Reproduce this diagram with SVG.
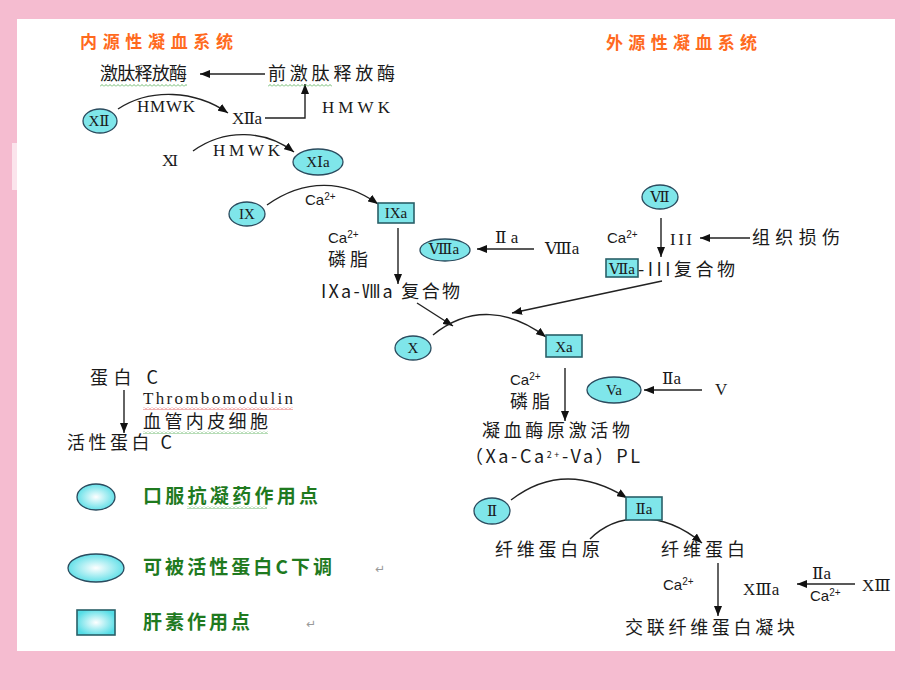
<svg xmlns="http://www.w3.org/2000/svg" width="920" height="690" viewBox="0 0 920 690">
<defs>
<style>
.cn{font-family:"Noto Sans CJK SC","Noto Sans",sans-serif;font-size:18px;fill:#1a1a1a}
.rm{font-family:"Liberation Serif","DejaVu Serif","Noto Sans CJK SC",serif;font-size:17px;fill:#1a1a1a}
.ca{font-family:"Liberation Sans","Noto Sans",sans-serif;font-size:15px;fill:#1a1a1a}
.title{font-family:"Noto Sans CJK SC",sans-serif;font-size:17px;font-weight:bold;fill:#ff6a1e}
.leg{font-family:"Noto Sans CJK SC",sans-serif;font-size:19px;font-weight:bold;fill:#1f7a1f}
.ell{fill:#7fe6ea;stroke:#2b4b5e;stroke-width:1.3}
.box{fill:#7fe6ea;stroke:#2a6068;stroke-width:1.6}
.lnk{fill:none;stroke:#222;stroke-width:1.4}
.nt{font-family:"Liberation Serif","DejaVu Serif","Noto Sans CJK SC",serif;font-size:15px;fill:#1a1a1a;text-anchor:middle}
.pm{font-family:"DejaVu Sans",sans-serif;font-size:12px;fill:#999}
</style>
<marker id="ah" viewBox="0 0 10 8" refX="10" refY="4" markerWidth="10" markerHeight="8" markerUnits="userSpaceOnUse" orient="auto">
<path d="M0,0 L10,4 L0,8 Z" fill="#111"/>
</marker>
<radialGradient id="lg" cx="50%" cy="50%" r="55%">
<stop offset="0" stop-color="#ffffff"/>
<stop offset="1" stop-color="#55dde6"/>
</radialGradient>
<pattern id="wg" width="4" height="3" patternUnits="userSpaceOnUse">
<path d="M0,2.5 L2,0.5 L4,2.5" fill="none" stroke="#4aa84a" stroke-width="0.8"/>
</pattern>
<pattern id="wr" width="4" height="3" patternUnits="userSpaceOnUse">
<path d="M0,2.5 L2,0.5 L4,2.5" fill="none" stroke="#e04040" stroke-width="0.8"/>
</pattern>
</defs>

<rect x="0" y="0" width="920" height="690" fill="#f5bcd0"/>
<rect x="12" y="143" width="6" height="47" fill="#fbe4ec"/>
<rect x="17" y="19" width="878" height="632" fill="#ffffff"/>

<!-- titles -->
<text class="title" x="80" y="48" textLength="153">内源性凝血系统</text>
<text class="title" x="606" y="49" textLength="151">外源性凝血系统</text>

<!-- connectors -->
<g id="connectors">
<line class="lnk" x1="265" y1="74" x2="200" y2="74" marker-end="url(#ah)"/>
<path class="lnk" d="M118,109 C150,88 195,90 228,113" marker-end="url(#ah)"/>
<polyline class="lnk" points="265,118 305,118 305,84" marker-end="url(#ah)"/>
<path class="lnk" d="M193,151 C225,128 265,130 294,152" marker-end="url(#ah)"/>
<path class="lnk" d="M267,205 C305,178 345,180 378,204" marker-end="url(#ah)"/>
<line class="lnk" x1="398" y1="228" x2="398" y2="284" marker-end="url(#ah)"/>
<line class="lnk" x1="534" y1="249" x2="477" y2="249" marker-end="url(#ah)"/>
<line class="lnk" x1="661" y1="218" x2="661" y2="257" marker-end="url(#ah)"/>
<line class="lnk" x1="750" y1="238" x2="700" y2="238" marker-end="url(#ah)"/>
<line class="lnk" x1="662" y1="281" x2="512" y2="313" marker-end="url(#ah)"/>
<line class="lnk" x1="417" y1="303" x2="453" y2="326" marker-end="url(#ah)"/>
<path class="lnk" d="M433,335 C470,305 510,310 546,337" marker-end="url(#ah)"/>
<line class="lnk" x1="565" y1="368" x2="565" y2="421" marker-end="url(#ah)"/>
<line class="lnk" x1="702" y1="390" x2="644" y2="390" marker-end="url(#ah)"/>
<path class="lnk" d="M511,500 C550,470 590,475 627,498" marker-end="url(#ah)"/>
<path class="lnk" d="M590,539 C615,514 660,508 702,543" marker-end="url(#ah)"/>
<line class="lnk" x1="718" y1="563" x2="718" y2="616" marker-end="url(#ah)"/>
<line class="lnk" x1="855" y1="584" x2="797" y2="584" marker-end="url(#ah)"/>
<line class="lnk" x1="124" y1="390" x2="124" y2="433" marker-end="url(#ah)"/>
</g>

<!-- intrinsic -->
<g id="kallikrein"><text class="cn" x="100" y="80" textLength="87">激肽释放酶</text>
<rect x="100" y="84" width="87" height="3" fill="url(#wg)"/></g>
<g id="prekallikrein"><text class="cn" x="268" y="80" textLength="127">前激肽释放酶</text>
<rect x="268" y="84" width="64" height="3" fill="url(#wg)"/></g>
<g id="hmwk1"><text class="rm" x="137" y="112" textLength="58">HMWK</text></g>
<g id="XII"><ellipse class="ell" cx="100" cy="121" rx="17" ry="12"/><text class="nt" x="99" y="126">XⅡ</text></g>
<g id="XIIa"><text class="rm" x="232" y="124" textLength="30">XⅡa</text></g>
<g id="hmwk2"><text class="rm" x="322" y="113" textLength="68">HMWK</text></g>
<g id="XI"><text class="rm" x="162" y="166" textLength="16">XI</text></g>
<g id="hmwk3"><text class="rm" x="213" y="156" textLength="67">HMWK</text></g>
<g id="XIa"><ellipse class="ell" cx="318" cy="162" rx="25" ry="13"/><text class="nt" x="318" y="167">XⅠa</text></g>
<g id="IX"><ellipse class="ell" cx="247" cy="214" rx="18" ry="12"/><text class="nt" x="247" y="219">IX</text></g>
<g id="ca1"><text class="ca" x="305" y="205">Ca<tspan font-size="10" dy="-5">2+</tspan></text></g>
<g id="IXa"><rect class="box" x="378" y="203" width="36" height="20"/><text class="nt" x="396" y="218" font-size="16">IXa</text></g>
<g id="ca2"><text class="ca" x="328" y="243">Ca<tspan font-size="10" dy="-5">2+</tspan></text>
<text class="cn" x="328" y="266" font-size="17" textLength="40">磷脂</text></g>
<g id="VIIIa"><ellipse class="ell" cx="445" cy="250" rx="25" ry="11"/><text class="nt" x="444" y="254" font-size="12">Ⅷa</text></g>
<g id="IIa1"><text class="rm" x="495" y="243">Ⅱ a</text></g>
<g id="VIII"><text class="rm" x="545" y="254">Ⅷa</text></g>
<g id="IXa-VIIIa"><text class="cn" x="321" y="298" font-size="17" textLength="139">IXa-Ⅷa 复合物</text></g>

<!-- extrinsic -->
<g id="VII"><ellipse class="ell" cx="660" cy="197" rx="18" ry="12"/><text class="nt" x="660" y="202">Ⅶ</text></g>
<g id="ca3"><text class="ca" x="607" y="243">Ca<tspan font-size="10" dy="-5">2+</tspan></text></g>
<g id="III"><text class="rm" x="670" y="245" textLength="22">III</text></g>
<g id="injury"><text class="cn" x="752" y="244" textLength="88">组织损伤</text></g>
<g id="VIIa-III"><rect class="box" x="606" y="259" width="32" height="18"/><text class="nt" x="622" y="274" font-size="16">Ⅶa</text>
<text class="cn" x="638" y="276" textLength="97">-III复合物</text></g>

<!-- common -->
<g id="X"><ellipse class="ell" cx="413" cy="348" rx="18" ry="12"/><text class="nt" x="413" y="353">X</text></g>
<g id="Xa"><rect class="box" x="546" y="335" width="36" height="22"/><text class="nt" x="564" y="352" font-size="16">Xa</text></g>
<g id="ca4"><text class="ca" x="510" y="385">Ca<tspan font-size="10" dy="-5">2+</tspan></text>
<text class="cn" x="510" y="408" font-size="17" textLength="40">磷脂</text></g>
<g id="Va"><ellipse class="ell" cx="614" cy="390" rx="27" ry="13"/><text class="nt" x="614" y="395">Va</text></g>
<g id="IIa2"><text class="rm" x="662" y="384">Ⅱa</text></g>
<g id="V"><text class="rm" x="715" y="395">V</text></g>
<g id="prothrombinase"><text class="cn" x="482" y="437" font-size="17" textLength="148">凝血酶原激活物</text>
<text class="cn" x="465" y="463" font-size="15" textLength="175">（Xa-Ca<tspan font-size="9" dy="-5">2+</tspan><tspan dy="5">-Va）PL</tspan></text></g>
<g id="II"><ellipse class="ell" cx="492" cy="511" rx="18" ry="13"/><text class="nt" x="492" y="516">Ⅱ</text></g>
<g id="IIa"><rect class="box" x="626" y="497" width="36" height="23"/><text class="nt" x="644" y="514" font-size="16">Ⅱa</text></g>
<g id="fibrinogen"><text class="cn" x="495" y="556" textLength="105">纤维蛋白原</text></g>
<g id="fibrin"><text class="cn" x="661" y="556" textLength="84">纤维蛋白</text></g>
<g id="ca5"><text class="ca" x="663" y="590">Ca<tspan font-size="10" dy="-5">2+</tspan></text></g>
<g id="XIIIa"><text class="rm" x="743" y="595">XⅢa</text></g>
<g id="XIII-cond"><text class="rm" x="812" y="579">Ⅱa</text>
<text class="ca" x="810" y="601">Ca<tspan font-size="10" dy="-5">2+</tspan></text></g>
<g id="XIII"><text class="rm" x="862" y="591">XⅢ</text></g>
<g id="clot"><text class="cn" x="625" y="634" textLength="170">交联纤维蛋白凝块</text></g>

<!-- protein C -->
<g id="proteinC"><text class="cn" x="90" y="384" textLength="68">蛋白 C</text></g>
<g id="tm"><text class="rm" x="143" y="404" font-size="15" textLength="150">Thrombomodulin</text>
<rect x="143" y="407" width="150" height="3" fill="url(#wr)"/>
<text class="cn" x="143" y="428" font-size="17" textLength="125">血管内皮细胞</text>
<rect x="143" y="431" width="125" height="3" fill="url(#wg)"/></g>
<g id="APC"><text class="cn" x="67" y="449" textLength="105">活性蛋白 C</text></g>

<!-- legend -->
<g id="legend-oral"><ellipse cx="96" cy="497" rx="19" ry="13" fill="url(#lg)" stroke="#2b4b5e" stroke-width="1.3"/>
<text class="leg" x="143" y="503" textLength="175">口服抗凝药作用点</text>
<rect x="187" y="506" width="80" height="3" fill="url(#wg)"/></g>
<g id="legend-apc"><ellipse cx="96" cy="568" rx="28" ry="14" fill="url(#lg)" stroke="#2b4b5e" stroke-width="1.3"/>
<text class="leg" x="143" y="574" textLength="189">可被活性蛋白C下调</text>
<text class="pm" x="375" y="573">↵</text></g>
<g id="legend-heparin"><rect x="77" y="610" width="38" height="25" fill="url(#lg)" stroke="#2a6068" stroke-width="1.6"/>
<text class="leg" x="143" y="629" textLength="107">肝素作用点</text>
<text class="pm" x="306" y="628">↵</text></g>
</svg>
